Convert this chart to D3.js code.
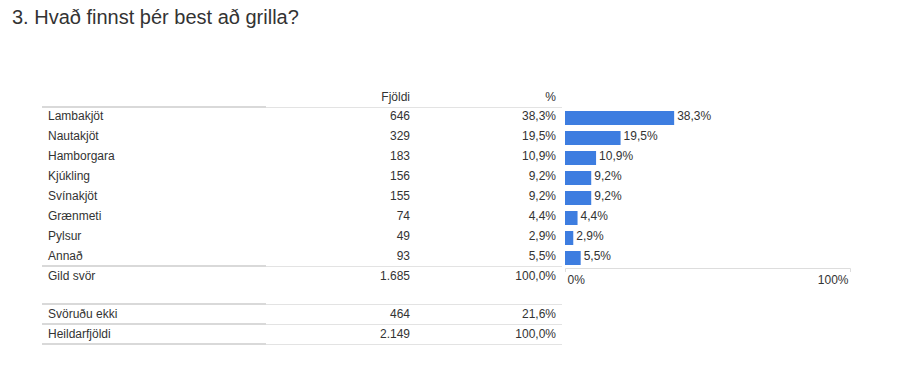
<!DOCTYPE html>
<html>
<head>
<meta charset="utf-8">
<script src="https://d3js.org/d3.v7.min.js"></script>
<style>
  body { margin: 0; background: #fff; }
  text { font-family: "Liberation Sans", Arial, sans-serif; fill: #333; }
</style>
</head>
<body>
<svg width="919" height="375"></svg>
<script>
// survey answers
const categories = ["Lambakjöt", "Nautakjöt", "Hamborgara", "Kjúkling", "Svínakjöt", "Grænmeti", "Pylsur", "Annað"];
const counts = [646, 329, 183, 156, 155, 74, 49, 93];
const percents = [38.3, 19.5, 10.9, 9.2, 9.2, 4.4, 2.9, 5.5];
const totalLabel = ["Gild svör", 1685, 100.0];
const extraRows = [["Svöruðu ekki", 464, 21.6], ["Heildarfjöldi", 2149, 100.0]];
const axisTicks = [0, 100];

const svg = d3.select("svg");
const fmtPct = d => d.toFixed(1).replace(".", ",") + "%";
const fmtNum = d => d3.format(",")(d).replace(/,/g, ".");

svg.append("text")
  .attr("x", 12).attr("y", 24)
  .style("font-size", "20px")
  .text("3. Hvað finnst þér best að grilla?");

var labelX = 48, countX = 410, pctX = 556;
var rowH = 20, firstRow = 118;

// row positions
const y = d3.scaleBand().domain(categories)
  .range([firstRow - rowH / 2, firstRow - rowH / 2 + rowH * categories.length]);
const x = d3.scaleLinear().domain([0, 100]).range([565, 850]);

svg.append("text").attr("x", countX).attr("y", 101).attr("text-anchor", "end")
  .style("font-size", "12px").text("Fjöldi");
svg.append("text").attr("x", pctX).attr("y", 101).attr("text-anchor", "end")
  .style("font-size", "12px").text("%");

function rule(yy) {
  svg.append("line").attr("x1", 42).attr("x2", 266).attr("y1", yy).attr("y2", yy)
    .attr("stroke", "#d9d9d9").attr("stroke-width", 2);
  svg.append("line").attr("x1", 266).attr("x2", 562).attr("y1", yy + 0.5).attr("y2", yy + 0.5)
    .attr("stroke", "#e3e3e3").attr("stroke-width", 1);
}
rule(107);
rule(266);

categories.forEach((c, i) => {
  var cy = y(c) + y.bandwidth() / 2 + 2;
  svg.append("text").attr("x", labelX).attr("y", cy).style("font-size", "12px").text(c);
  svg.append("text").attr("x", countX).attr("y", cy).attr("text-anchor", "end")
    .style("font-size", "12px").text(fmtNum(counts[i]));
  svg.append("text").attr("x", pctX).attr("y", cy).attr("text-anchor", "end")
    .style("font-size", "12px").text(fmtPct(percents[i]));

  svg.append("rect")
    .attr("x", x(0)).attr("y", y(c) + 3)
    .attr("width", x(percents[i]) - x(0)).attr("height", 14)
    .attr("fill", "#3d7de0");
  svg.append("text")
    .attr("x", x(percents[i]) + 3).attr("y", cy)
    .style("font-size", "12px").text(fmtPct(percents[i]));
});

// total row
var ty = 280;
svg.append("text").attr("x", labelX).attr("y", ty).style("font-size", "12px").text(totalLabel[0]);
svg.append("text").attr("x", countX).attr("y", ty).attr("text-anchor", "end")
  .style("font-size", "12px").text(fmtNum(totalLabel[1]));
svg.append("text").attr("x", pctX).attr("y", ty).attr("text-anchor", "end")
  .style("font-size", "12px").text(fmtPct(totalLabel[2]));

// axis
var ax = svg.append("g").attr("transform", "translate(0,268)")
  .call(d3.axisBottom(x).tickValues(axisTicks).tickSize(0).tickFormat(d => d + "%"));
ax.select(".domain").attr("stroke", "#ddd").attr("d", "M565.5,4V0.5H850.5V4");
ax.selectAll("text").style("font-size", "12px").attr("fill", "#333")
  .attr("font-family", "Liberation Sans, Arial, sans-serif").attr("dy", "1.1em");
ax.selectAll(".tick text").attr("text-anchor", (d, i) => i === 0 ? "start" : "end")
  .attr("dx", (d, i) => i === 0 ? 2 : -2);

// second table
rule(304);
extraRows.forEach((r, i) => {
  var cy = 318 + i * rowH;
  svg.append("text").attr("x", labelX).attr("y", cy).style("font-size", "12px").text(r[0]);
  svg.append("text").attr("x", countX).attr("y", cy).attr("text-anchor", "end")
    .style("font-size", "12px").text(fmtNum(r[1]));
  svg.append("text").attr("x", pctX).attr("y", cy).attr("text-anchor", "end")
    .style("font-size", "12px").text(fmtPct(r[2]));
  rule(324 + i * rowH);
});
</script>
</body>
</html>
